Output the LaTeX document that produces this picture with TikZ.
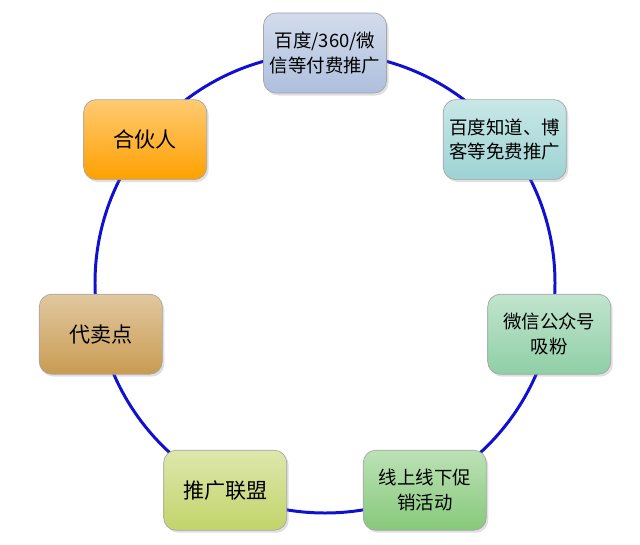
\documentclass[tikz,border=0pt]{standalone}
\usepackage{fontspec}
\newfontfamily\cjk{Noto Sans CJK SC}
\usepackage{tikz}
\usetikzlibrary{shadows}

\definecolor{paidblue}{HTML}{AEBFDD}
\definecolor{freecyan}{HTML}{9DD3D3}
\definecolor{wxmint}{HTML}{8FCFA6}
\definecolor{promogreen}{HTML}{86C97A}
\definecolor{leaguelime}{HTML}{C2D46A}
\definecolor{agenttan}{HTML}{C99B52}
\definecolor{partnerorange}{HTML}{FFA000}
\definecolor{ringblue}{HTML}{1010D0}

\begin{document}
\begin{tikzpicture}[
        every node/.style={font=\cjk\fontsize{10.5}{14}\selectfont},
        box/.style={rectangle, draw=gray!70, rounded corners=0.25cm, minimum width=2.46cm, minimum height=1.6cm, align=center, top color=#1!55!white, bottom color=#1, drop shadow={opacity=0.25, shadow xshift=0.04cm, shadow yshift=-0.05cm}},
        big/.style={font=\cjk\fontsize{12}{14}\selectfont},
        ring/.style={draw=ringblue, line width=1.7pt}
    ]
%
    \useasboundingbox (-6.5, -5.22) rectangle (6.3, 5.66);
%
    % Ring
    \coordinate (hub) at (0, 0);
    \draw[ring] (hub) circle (4.6);
%
    % Channels
    \node[box=paidblue] (paid) at (90:4.6) {百度/360/微\\信等付费推广};
    \node[box=freecyan] (free) at (38.57:4.6) {百度知道、博\\客等免费推广};
    \node[box=wxmint] (wechat) at (-12.86:4.6) {微信公众号\\吸粉};
    \node[box=promogreen] (promo) at (-64.29:4.6) {线上线下促\\销活动};
    \node[box=leaguelime, big] (league) at (-115.71:4.6) {推广联盟};
    \node[box=agenttan, big] (agent) at (-167.14:4.6) {代卖点};
    \node[box=partnerorange, big] (partner) at (141.43:4.6) {合伙人};
%
    \end{tikzpicture}
\end{document}
